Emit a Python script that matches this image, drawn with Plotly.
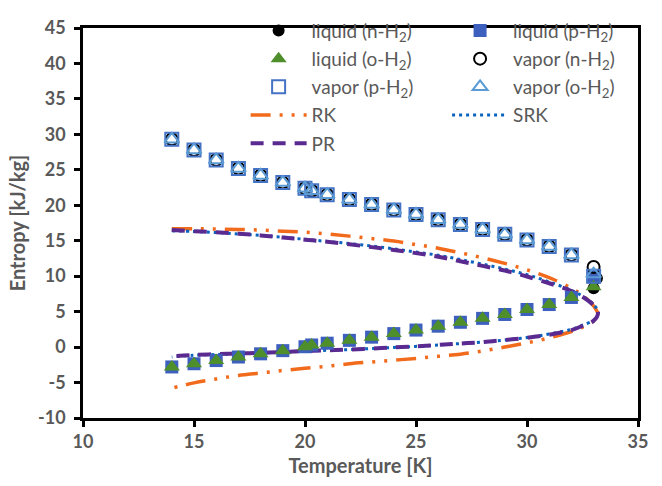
import plotly.graph_objects as go

# ---------------- data ----------------
T = [14, 15, 16, 17, 18, 19, 20, 20.3, 21, 22, 23, 24, 25, 26, 27, 28, 29, 30, 31, 32]
liq_common = [-2.8, -2.35, -1.9, -1.4, -0.95, -0.5, 0.05, 0.3, 0.55, 0.95, 1.4, 1.9,
              2.4, 2.95, 3.5, 4.05, 4.6, 5.3, 6.0, 7.0]
vap_common = [29.3, 27.8, 26.4, 25.2, 24.2, 23.2, 22.4, 22.05, 21.5, 20.8, 20.1, 19.35,
              18.7, 17.95, 17.3, 16.6, 15.9, 15.1, 14.2, 13.0]

T_liq_n = T + [33, 33.15]
S_liq_n = liq_common + [8.3, 9.7]
T_liq_p = T + [33]
S_liq_p = liq_common + [9.9]
T_liq_o = T + [33]
S_liq_o = liq_common + [8.5]
T_vap_n = T + [33]
S_vap_n = vap_common + [11.3]
T_vap_p = T + [33]
S_vap_p = vap_common + [10.0]
T_vap_o = T + [33]
S_vap_o = vap_common + [10.3]

# EOS curves: saturated vapor branch (up to critical) then liquid branch back down
T_eos_up = [14, 15, 16, 17, 18, 19, 20, 21, 22, 23, 24, 25, 26, 27, 28, 29, 30, 31, 32, 32.5, 33, 33.2]
T_eos_low = [33, 32.5, 32, 31, 30, 29, 28, 27, 26, 25, 24, 23, 22, 21, 20, 19, 18, 17, 16, 15, 14]

RK_up = [16.7, 16.7, 16.65, 16.6, 16.5, 16.35, 16.2, 15.95, 15.65, 15.3, 14.95, 14.45,
         13.95, 13.3, 12.6, 11.8, 10.9, 9.8, 8.3, 7.3, 5.8, 4.5]
RK_low = [3.7, 2.8, 2.2, 1.3, 0.6, 0.0, -0.55, -1.0, -1.3, -1.6, -1.85, -2.1, -2.35,
          -2.7, -3.0, -3.3, -3.65, -4.0, -4.5, -5.05, -5.8]
SRK_up = [16.4, 16.3, 16.15, 15.95, 15.75, 15.5, 15.2, 14.9, 14.6, 14.25, 13.85, 13.4,
          12.95, 12.35, 11.7, 11.0, 10.2, 9.2, 8.0, 7.2, 6.0, 4.9]
SRK_low = [3.8, 3.1, 2.5, 1.85, 1.35, 1.0, 0.7, 0.5, 0.3, 0.1, -0.05, -0.2, -0.35,
           -0.45, -0.6, -0.7, -0.85, -0.95, -1.05, -1.15, -1.4]
PR_up = [16.5, 16.35, 16.2, 16.0, 15.75, 15.45, 15.15, 14.85, 14.5, 14.1, 13.7, 13.25,
         12.75, 12.1, 11.45, 10.8, 9.95, 9.0, 7.9, 7.1, 5.9, 4.8]
PR_low = [3.7, 3.0, 2.4, 1.75, 1.3, 1.0, 0.7, 0.5, 0.3, 0.1, -0.05, -0.2, -0.35,
          -0.45, -0.55, -0.7, -0.8, -0.9, -1.0, -1.1, -1.3]

x_ticks = [10, 15, 20, 25, 30, 35]
y_ticks = [-10, -5, 0, 5, 10, 15, 20, 25, 30, 35, 40, 45]

# ---------------- figure ----------------
GREY = "#595959"
FONT = "Lato, Open Sans, sans-serif"
fig = go.Figure()

# EOS lines (drawn under markers)
fig.add_trace(go.Scatter(x=T_eos_up + T_eos_low, y=RK_up + RK_low, mode="lines", name="RK",
                         line=dict(color="#F26B1D", width=3.5, dash="20px,9px,3px,9px,3px,9px", shape="spline"),
                         legend="legend", legendrank=7, legendgroup="g7"))
fig.add_trace(go.Scatter(x=T_eos_up + T_eos_low, y=SRK_up + SRK_low, mode="lines", name="SRK",
                         line=dict(color="#0A64BE", width=3, dash="3px,4px", shape="spline"),
                         legend="legend2", legendrank=8, legendgroup="g8"))
fig.add_trace(go.Scatter(x=T_eos_up + T_eos_low, y=PR_up + PR_low, mode="lines", name="PR",
                         line=dict(color="#5B2A91", width=4, dash="13px,9px", shape="spline"),
                         legend="legend", legendrank=9, legendgroup="g9"))

sub = "H<sub>2</sub>"
# markers
fig.add_trace(go.Scatter(x=T_liq_n, y=S_liq_n, mode="markers", name=f"liquid (n-{sub})",
                         marker=dict(symbol="circle", size=12, color="black"),
                         legend="legend", legendrank=1, legendgroup="g1"))
fig.add_trace(go.Scatter(x=T_liq_p, y=S_liq_p, mode="markers", name=f"liquid (p-{sub})",
                         marker=dict(symbol="square", size=13, color="#3D5FBE"),
                         legend="legend2", legendrank=2, legendgroup="g2"))
fig.add_trace(go.Scatter(x=T_liq_o, y=S_liq_o, mode="markers", name=f"liquid (o-{sub})",
                         marker=dict(symbol="triangle-up", size=14, color="#4E8F2C"),
                         legend="legend", legendrank=3, legendgroup="g3"))
fig.add_trace(go.Scatter(x=T_vap_n, y=S_vap_n, mode="markers", name=f"vapor (n-{sub})",
                         marker=dict(symbol="circle-open", size=12, color="black", line=dict(width=2)),
                         legend="legend2", legendrank=4, legendgroup="g4"))
fig.add_trace(go.Scatter(x=T_vap_p, y=S_vap_p, mode="markers", name=f"vapor (p-{sub})",
                         marker=dict(symbol="square-open", size=13, color="#4472C4", line=dict(width=2)),
                         legend="legend", legendrank=5, legendgroup="g5"))
fig.add_trace(go.Scatter(x=T_vap_o, y=S_vap_o, mode="markers", name=f"vapor (o-{sub})",
                         marker=dict(symbol="triangle-up-open", size=13, color="#5B9BD5", line=dict(width=2)),
                         legend="legend2", legendrank=6, legendgroup="g6"))

leg_common = dict(bgcolor="rgba(0,0,0,0)", borderwidth=0, itemwidth=56, tracegroupgap=0.5,
                  font=dict(family=FONT, size=19, color=GREY),
                  yanchor="top", xanchor="left", y=1.042, itemclick=False)
fig.update_layout(
    width=662, height=486,
    margin=dict(l=83, r=24, t=13, b=66),
    paper_bgcolor="white", plot_bgcolor="white",
    showlegend=True,
    legend=dict(x=0.293, **leg_common),
    legend2=dict(x=0.656, **leg_common),
    xaxis=dict(range=[10, 35], tickvals=x_ticks, ticktext=[f"<b>{v}</b>" for v in x_ticks],
               ticks="outside", ticklen=6, tickwidth=2.5,
               tickcolor="black", showline=True, linecolor="black", linewidth=2.5, mirror=True,
               showgrid=False, zeroline=False,
               tickfont=dict(family=FONT, size=18, color=GREY),
               title=dict(text="<b>Temperature [K]</b>", standoff=8,
                          font=dict(family=FONT, size=20, color=GREY))),
    yaxis=dict(range=[-10, 45], tickvals=y_ticks, ticktext=[f"<b>{v}</b>" for v in y_ticks],
               ticks="outside", ticklen=6, tickwidth=2.5, ticklabelstandoff=5,
               tickcolor="black", showline=True, linecolor="black", linewidth=2.5, mirror=True,
               showgrid=False, zeroline=False,
               tickfont=dict(family=FONT, size=18, color=GREY),
               title=dict(text="<b>Entropy [kJ/kg]</b>", standoff=8,
                          font=dict(family=FONT, size=20, color=GREY))),
)

fig.write_html("out.html")
